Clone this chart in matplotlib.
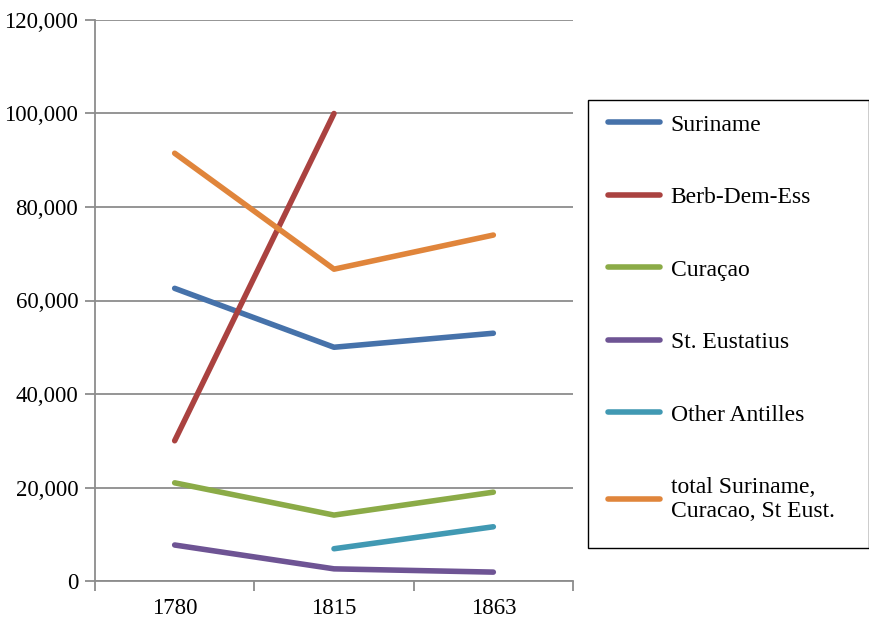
import matplotlib
matplotlib.use('Agg')
import matplotlib.pyplot as plt
from matplotlib.ticker import FuncFormatter, FixedLocator
from matplotlib.patches import Rectangle
import numpy as np

plt.rcParams['font.family'] = ['Liberation Serif', 'DejaVu Serif']

# data
years = ['1780', '1815', '1863']
suriname = [62600, 50000, 53000]
berbice = [30000, 100000, np.nan]
curacao = [21000, 14100, 19000]
st_eustatius = [7700, 2600, 1900]
other_antilles = [np.nan, 6900, 11600]
total = [91500, 66700, 74000]

series = [
    ('Suriname', suriname, '#4672AA'),
    ('Berb-Dem-Ess', berbice, '#AA4240'),
    ('Curaçao', curacao, '#8BAB47'),
    ('St. Eustatius', st_eustatius, '#6E5494'),
    ('Other Antilles', other_antilles, '#4199B3'),
    ('total Suriname,\nCuracao, St Eust.', total, '#E0853B'),
]

grey = '#8C8C8C'
fig = plt.figure(figsize=(8.7, 6.18), dpi=100)
ax = fig.add_axes([95/870, 37/618, 478/870, 561/618])

x = np.arange(len(years)) + 0.5
lines = []
for name, vals, col in series:
    l, = ax.plot(x, vals, color=col, lw=4.0, solid_capstyle='round',
                 solid_joinstyle='round', label=name)
    lines.append(l)

ax.set_xlim(0, len(years))
ax.set_ylim(0, 120000)
ax.set_yticks(np.arange(0, 120001, 20000))
ax.yaxis.set_major_formatter(FuncFormatter(lambda v, p: '{:,.0f}'.format(v)))
ax.grid(axis='y', color=grey, lw=1.3)
ax.set_axisbelow(True)

# category labels between boundary ticks
ax.xaxis.set_major_locator(FixedLocator(np.arange(len(years) + 1)))
ax.xaxis.set_major_formatter(FuncFormatter(lambda v, p: ''))
ax.xaxis.set_minor_locator(FixedLocator(x))
ax.set_xticklabels(years, minor=True)
ax.tick_params(axis='x', which='minor', length=0, pad=12, labelsize=16.5)
ax.tick_params(axis='x', which='major', length=7, width=1.3, color=grey, direction='out')
ax.tick_params(axis='y', length=7, width=1.3, color=grey, direction='out', pad=5, labelsize=16.5)

for s in ['top', 'right']:
    ax.spines[s].set_visible(False)
for s in ['left', 'bottom']:
    ax.spines[s].set_color(grey)
    ax.spines[s].set_linewidth(1.3)

# legend box drawn separately so it can be taller than the entries
fig.patches.append(Rectangle((588/870, 1 - 548/618), 281/870, 448/618,
                             transform=fig.transFigure, fill=False,
                             edgecolor='black', lw=1.0))
leg = fig.legend(handles=lines, loc='upper left',
                 bbox_to_anchor=(608/870, 1 - 114/618),
                 fontsize=17, frameon=False,
                 labelspacing=2.16, handlelength=2.2, handletextpad=0.45,
                 borderpad=0, borderaxespad=0)

fig.savefig('out.png', dpi=100)
